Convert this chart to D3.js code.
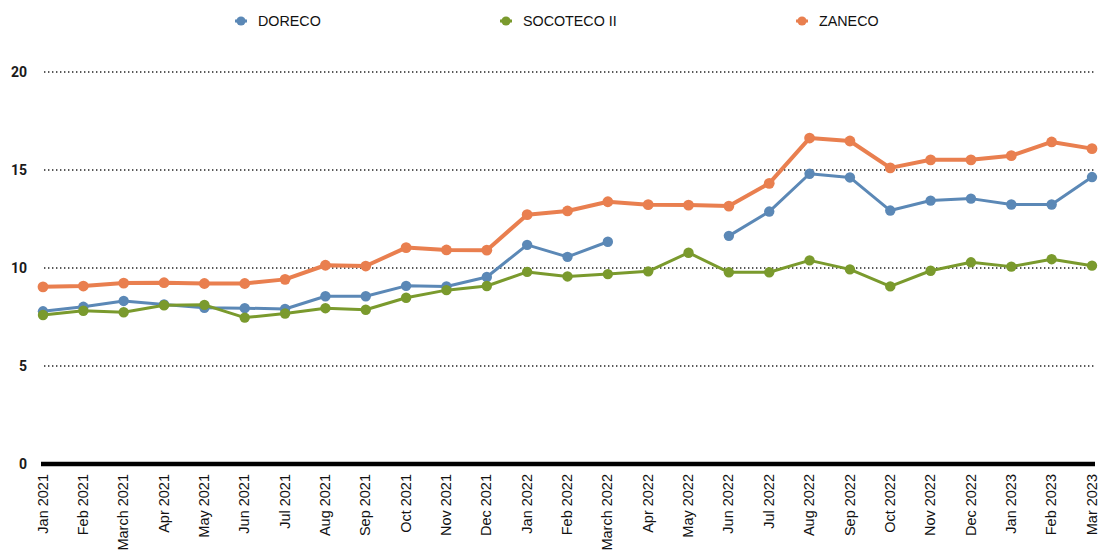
<!DOCTYPE html>
<html>
<head>
<meta charset="utf-8">
<script src="https://cdn.jsdelivr.net/npm/d3@7"></script>
<style>
  html, body { margin: 0; padding: 0; background: #fff; }
  svg { display: block; }
</style>
</head>
<body>
<svg id="chart" width="1099" height="556"></svg>
<script>
const categories = ["Jan 2021","Feb 2021","March 2021","Apr 2021","May 2021","Jun 2021","Jul 2021","Aug 2021","Sep 2021","Oct 2021","Nov 2021","Dec 2021","Jan 2022","Feb 2022","March 2022","Apr 2022","May 2022","Jun 2022","Jul 2022","Aug 2022","Sep 2022","Oct 2022","Nov 2022","Dec 2022","Jan 2023","Feb 2023","Mar 2023"];
const doreco = [7.79, 8.02, 8.32, 8.14, 7.97, 7.95, 7.91, 8.56, 8.56, 9.09, 9.06, 9.54, 11.18, 10.57, 11.34, null, null, 11.64, 12.88, 14.81, 14.62, 12.93, 13.44, 13.54, 13.24, 13.24, 14.64];
const socoteco = [7.6, 7.82, 7.74, 8.1, 8.12, 7.47, 7.68, 7.95, 7.87, 8.48, 8.87, 9.08, 9.8, 9.57, 9.69, 9.83, 10.78, 9.78, 9.78, 10.39, 9.93, 9.06, 9.86, 10.29, 10.07, 10.45, 10.12];
const zaneco = [9.04, 9.08, 9.23, 9.25, 9.21, 9.21, 9.42, 10.14, 10.1, 11.04, 10.92, 10.91, 12.72, 12.91, 13.38, 13.23, 13.21, 13.16, 14.32, 16.63, 16.48, 15.11, 15.52, 15.52, 15.73, 16.43, 16.09];
const yTicks = [0, 5, 10, 15, 20];
const seriesNames = ["DORECO", "SOCOTECO II", "ZANECO"];

const series = [
  { name: seriesNames[0], values: doreco, color: "#5b88b6", width: 3, r: 5.2, lx: 241 },
  { name: seriesNames[1], values: socoteco, color: "#7a9a2d", width: 3, r: 5.2, lx: 506 },
  { name: seriesNames[2], values: zaneco, color: "#e97f4f", width: 4, r: 5.4, lx: 802 }
];

const svg = d3.select("#chart");
const x = d3.scalePoint().domain(categories).range([43, 1092]);
const y = d3.scaleLinear().domain([0, 20]).range([464, 72]);

// gridlines
svg.append("g").selectAll("line")
  .data(yTicks.filter(t => t > 0))
  .join("line")
  .attr("x1", 44).attr("x2", 1095)
  .attr("y1", d => y(d)).attr("y2", d => y(d))
  .attr("stroke", "#222").attr("stroke-width", 1.4)
  .attr("stroke-dasharray", "1.4,2.6");

// y axis labels
const yAxis = d3.axisLeft(y).tickValues(yTicks).tickSize(0).tickPadding(0);
const yg = svg.append("g").attr("transform", "translate(27,0)").call(yAxis);
yg.select(".domain").remove();
yg.selectAll("text")
  .attr("font-family", "Roboto, 'Liberation Sans', sans-serif")
  .attr("font-weight", 700)
  .attr("font-size", 14)
  .attr("fill", "#1a1a1a");

// x axis
const xAxis = d3.axisBottom(x).tickSize(0).tickPadding(0);
const xg = svg.append("g").attr("transform", "translate(0,464)").call(xAxis);
xg.select(".domain").remove();
xg.selectAll("text")
  .attr("font-family", "'Liberation Sans', Arial, sans-serif")
  .attr("font-size", 14.5)
  .attr("fill", "#111")
  .attr("text-anchor", "end")
  .attr("dy", "0.35em")
  .attr("transform", "translate(-1,10) rotate(-90)")
  .attr("y", 0)
  .attr("x", 0);

// axis baseline
svg.append("line")
  .attr("x1", 41).attr("x2", 1095)
  .attr("y1", y(0)).attr("y2", y(0))
  .attr("stroke", "#000").attr("stroke-width", 4.5);

// lines & markers
const line = d3.line()
  .defined(d => d.v !== null)
  .x(d => x(d.c)).y(d => y(d.v));

series.forEach(s => {
  const pts = categories.map((c, i) => ({ c, v: s.values[i] }));
  svg.append("path")
    .datum(pts)
    .attr("d", line)
    .attr("fill", "none")
    .attr("stroke", s.color)
    .attr("stroke-width", s.width)
    .attr("stroke-linejoin", "round");
  svg.append("g").selectAll("circle")
    .data(pts.filter(d => d.v !== null))
    .join("circle")
    .attr("cx", d => x(d.c)).attr("cy", d => y(d.v))
    .attr("r", s.r)
    .attr("fill", s.color);
});

// legend
const lg = svg.append("g");
series.forEach(s => {
  lg.append("line")
    .attr("x1", s.lx - 6).attr("x2", s.lx + 6)
    .attr("y1", 21).attr("y2", 21)
    .attr("stroke", s.color).attr("stroke-width", 3);
  lg.append("circle")
    .attr("cx", s.lx).attr("cy", 21).attr("r", 4.6)
    .attr("fill", s.color);
  lg.append("text")
    .attr("x", s.lx + 17).attr("y", 21)
    .attr("dy", "0.36em")
    .attr("font-family", "'Liberation Sans', Arial, sans-serif")
    .attr("font-size", 14.3)
    .attr("fill", "#111")
    .text(s.name);
});
</script>
</body>
</html>
